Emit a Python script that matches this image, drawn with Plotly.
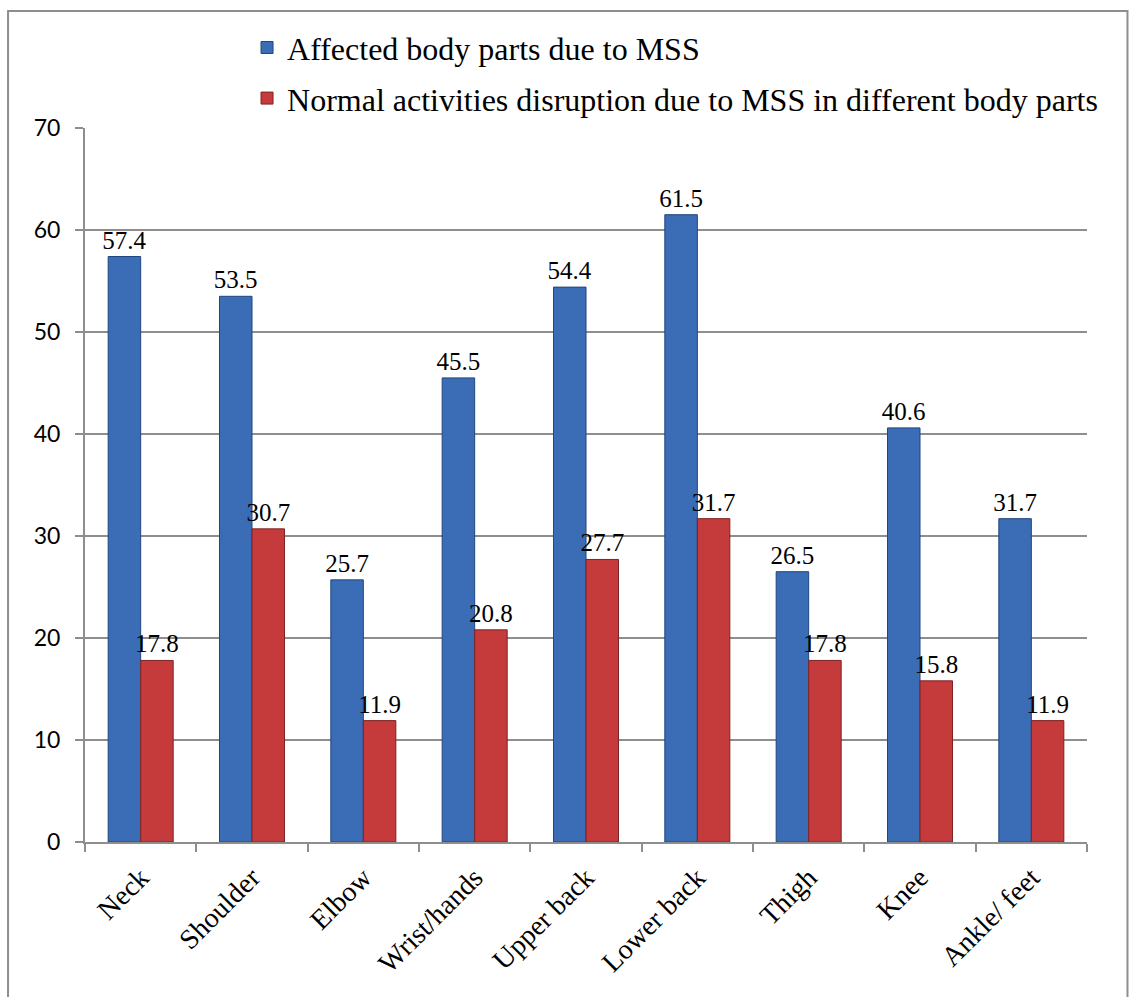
import plotly.graph_objects as go

categories = ["Neck", "Shoulder", "Elbow", "Wrist/hands", "Upper back",
              "Lower back", "Thigh", "Knee", "Ankle/ feet"]
affected = [57.4, 53.5, 25.7, 45.5, 54.4, 61.5, 26.5, 40.6, 31.7]
disruption = [17.8, 30.7, 11.9, 20.8, 27.7, 31.7, 17.8, 15.8, 11.9]
series_names = ["Affected body parts due to MSS",
                "Normal activities disruption due to MSS in different body parts"]
y_ticks = [0, 10, 20, 30, 40, 50, 60, 70]

serif = "Liberation Serif"
grey = "#8E8E8E"

fig = go.Figure()
fig.add_trace(go.Bar(
    x=categories, y=affected, name=series_names[0], legendgroup="a",
    marker=dict(color="#3A6DB6", line=dict(color="#1F467E", width=1)),
    text=[f"{v:.1f}" for v in affected], textposition="outside",
    constraintext="none",
    textfont=dict(family=serif, size=25, color="black"), cliponaxis=False,
))
fig.add_trace(go.Bar(
    x=categories, y=disruption, name=series_names[1], legendgroup="b",
    marker=dict(color="#C53B3C", line=dict(color="#7E2222", width=1)),
    text=[f"{v:.1f}" for v in disruption], textposition="outside",
    constraintext="none",
    textfont=dict(family=serif, size=25, color="black"), cliponaxis=False,
))

fig.update_layout(
    width=1129, height=997,
    margin=dict(l=85, r=42, t=128, b=155),
    paper_bgcolor="white", plot_bgcolor="white",
    barmode="group", bargap=0.416, bargroupgap=0.0,
    showlegend=True,
    legend=dict(x=0.1617, y=1.151, xanchor="left", yanchor="top",
                font=dict(family=serif, size=32, color="black"),
                itemwidth=30, tracegroupgap=6, bgcolor="rgba(0,0,0,0)"),
    xaxis=dict(
        tickangle=-45, tickfont=dict(family=serif, size=28, color="black"),
        showline=True, linecolor=grey, linewidth=2,
        ticks="outside", ticklen=8, tickcolor=grey, tickwidth=2,
        tickson="boundaries", showgrid=False, ticklabelstandoff=6,
    ),
    yaxis=dict(
        range=[0, 70], tickvals=y_ticks,
        tickfont=dict(family="Lato", size=23, color="black"),
        showline=True, linecolor=grey, linewidth=2,
        ticks="outside", ticklen=8, tickcolor=grey, tickwidth=2,
        showgrid=True, gridcolor=grey, gridwidth=1.5,
        zeroline=False, ticklabelstandoff=10,
    ),
    shapes=[dict(type="rect", xref="paper", yref="paper",
                 x0=-0.0768, x1=1.0404, y0=-0.3, y1=1.1639,
                 line=dict(color=grey, width=2), fillcolor="rgba(0,0,0,0)",
                 layer="below")],
)

fig.write_html("out.html")
